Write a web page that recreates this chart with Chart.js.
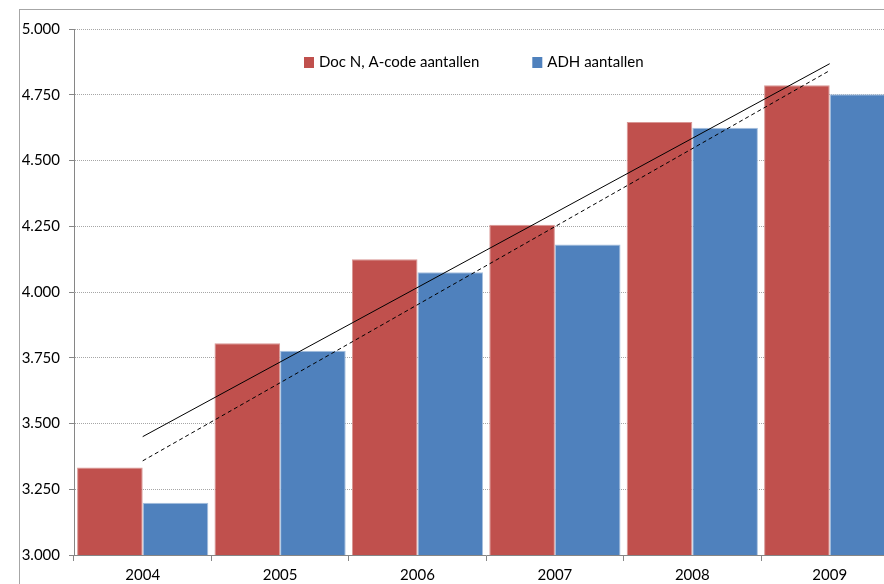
<!DOCTYPE html>
<html>
<head>
<meta charset="utf-8">
<script src="https://cdn.jsdelivr.net/npm/chart.js@4.4.1/dist/chart.umd.min.js"></script>
<style>
  html, body { margin: 0; padding: 0; overflow: hidden; background: #fff; width: 884px; height: 584px; }
  #frame { position: absolute; left: 19px; top: 9px; width: 1000px; height: 700px;
           border-left: 1px solid #a6a6a6; border-top: 1px solid #a6a6a6; }
  #wrap { position: absolute; left: 0; top: 0; width: 920px; height: 600px; }
</style>
</head>
<body>
<div id="frame"></div>
<div id="wrap"><canvas id="myChart" width="920" height="600"></canvas></div>
<script>
// data
let years = ['2004', '2005', '2006', '2007', '2008', '2009'];
let docNData = [3333, 3805, 4125, 4256, 4646, 4786];
let adhData = [3199, 3777, 4075, 4181, 4625, 4752];
// trend lines, only the end points (2004 and 2009)
let docNTrend = [3450, null, null, null, null, 4868];
let adhTrend = [3358, null, null, null, null, 4842];
let yTicks = [3000, 3250, 3500, 3750, 4000, 4250, 4500, 4750, 5000];

const font = { family: 'Lato, "Open Sans", sans-serif', size: 15 };

function dutch(v) {
  return String(v).replace(/\B(?=(\d{3})+(?!\d))/g, '.');
}

// legend drawn inside the plot area, bars only
const innerLegend = {
  id: 'innerLegend',
  afterDraw(c) {
    const ctx = c.ctx;
    const area = c.chartArea;
    let x = area.left + 230;
    const y = area.top + 33;
    ctx.save();
    ctx.font = font.size + 'px ' + font.family;
    ctx.textBaseline = 'middle';
    c.data.datasets.filter(d => d.type === 'bar').forEach(d => {
      ctx.fillStyle = d.backgroundColor;
      ctx.fillRect(x, y - 5, 10, 11);
      ctx.fillStyle = '#000';
      ctx.fillText(d.label, x + 15, y);
      x += 15 + ctx.measureText(d.label).width + 53;
    });
    ctx.restore();
  }
};

let myChart = document.getElementById('myChart').getContext('2d');

let chart = new Chart(myChart, {
  type: 'bar',
  data: {
    labels: years,
    datasets: [
      {
        type: 'line',
        label: 'Trend Doc N',
        data: docNTrend,
        borderColor: '#000',
        borderWidth: 1,
        pointRadius: 0,
        spanGaps: true,
        fill: false,
        order: 1
      },
      {
        type: 'line',
        label: 'Trend ADH',
        data: adhTrend,
        borderColor: '#000',
        borderWidth: 1,
        borderDash: [4, 3],
        pointRadius: 0,
        spanGaps: true,
        fill: false,
        order: 1
      },
      {
        type: 'bar',
        label: 'Doc N, A-code aantallen',
        data: docNData,
        backgroundColor: '#c0504d',
        borderColor: '#d99694',
        borderWidth: 1,
        barPercentage: 1,
        categoryPercentage: 0.955,
        order: 2
      },
      {
        type: 'bar',
        label: 'ADH aantallen',
        data: adhData,
        backgroundColor: '#4f81bd',
        borderColor: '#a7c0de',
        borderWidth: 1,
        barPercentage: 1,
        categoryPercentage: 0.955,
        order: 2
      }
    ]
  },
  options: {
    responsive: false,
    animation: false,
    devicePixelRatio: 1,
    layout: { padding: { left: 0, top: 29, right: 21.6, bottom: 0 } },
    plugins: {
      legend: { display: false },
      title: { display: false },
      tooltip: { enabled: false }
    },
    scales: {
      x: {
        grid: { display: true, drawOnChartArea: false, offset: true, tickLength: 6, color: '#868686' },
        border: { color: '#868686' },
        ticks: { color: '#000', font: font, padding: 5 },
        afterFit(s) { s.height = 45; }
      },
      y: {
        min: 3000,
        max: 5000,
        afterBuildTicks(s) { s.ticks = yTicks.map(v => ({ value: v })); },
        grid: { color: '#a6a6a6', tickLength: 5, tickColor: '#868686' },
        border: { color: '#868686', dash: [1, 1] },
        ticks: { color: '#000', font: font, padding: 9, callback: v => dutch(v) },
        afterFit(s) { s.width = 74; }
      }
    }
  },
  plugins: [innerLegend]
});
</script>
</body>
</html>
